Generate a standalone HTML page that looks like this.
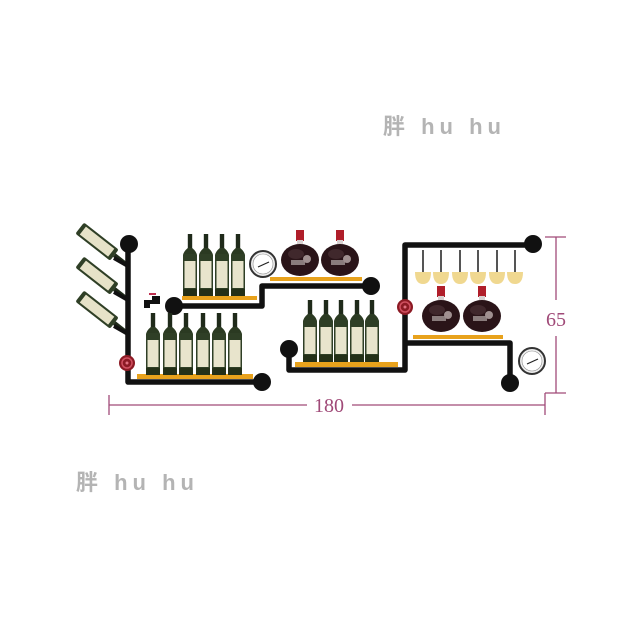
<!DOCTYPE html>
<html><head><meta charset="utf-8"><style>
html,body{margin:0;padding:0;background:#fff;width:640px;height:640px;overflow:hidden}
svg{display:block}
.wm{font-family:"Liberation Sans","Noto Sans CJK SC",sans-serif;font-weight:bold;font-size:22px;fill:#b4b4b4;letter-spacing:5px}
</style></head><body>
<svg width="640" height="640" viewBox="0 0 640 640" xmlns="http://www.w3.org/2000/svg">
<defs>
<g id="b">
  <rect x="-2.2" y="0" width="4.4" height="16" fill="#1f2a1a"/>
  <path d="M-2.2 14 Q-7 18 -7 22 L7 22 Q7 18 2.2 14Z" fill="#2b3a22"/>
  <rect x="-7" y="20" width="14" height="42" rx="1.5" fill="#2f3f26"/>
  <rect x="-5.5" y="27" width="11" height="27" fill="#e8e4cc"/>
  <rect x="-7" y="55" width="14" height="7" fill="#243018"/>
</g>
<g id="r">
  <rect x="-4" y="0" width="8" height="11" fill="#b01e2a"/>
  <rect x="-3" y="10" width="6" height="6" fill="#d8d0d0"/>
  <ellipse cx="0" cy="30" rx="19" ry="16" fill="#2a1418"/>
  <ellipse cx="-4" cy="24" rx="8" ry="5" fill="#4a3035" opacity=".7"/>
  <rect x="-9" y="30" width="14" height="5" fill="#8a7c7c"/>
  <circle cx="7" cy="29" r="4" fill="#a09090"/>
</g>
<g id="g">
  <rect x="-1" y="0" width="2" height="22" fill="#555"/>
  <path d="M-8 22 Q-8 34 0 34 Q8 34 8 22Z" fill="#f0d890"/>
</g>
<g id="s">
  <g transform="rotate(-52)">
    <rect x="-7" y="-8" width="14" height="44" rx="2" fill="#2f3f26"/>
    <rect x="-5" y="-4" width="10" height="36" fill="#e6e2c8"/>
    <rect x="-2.2" y="36" width="4.4" height="16" fill="#1f2a1a"/>
  </g>
</g>
<g id="gauge">
  <circle r="13" fill="#eee" stroke="#333" stroke-width="2"/>
  <circle r="10" fill="#fff" stroke="#888" stroke-width=".6"/>
  <line x1="-5" y1="3" x2="6" y2="-2" stroke="#222" stroke-width="1.2"/>
</g>
<g id="valve">
  <circle r="8" fill="#8c1a24"/>
  <circle r="5" fill="none" stroke="#d05060" stroke-width="1.5"/>
  <circle r="1.5" fill="#e07080"/>
</g>
</defs>

<text class="wm" x="383" y="134">胖 hu hu</text>
<text class="wm" x="76" y="490">胖 hu hu</text>

<!-- slanted bottles -->
<use href="#s" x="86" y="233"/>
<use href="#s" x="86" y="267"/>
<use href="#s" x="86" y="301"/>
<g stroke="#111" stroke-width="4" fill="none">
<line x1="114" y1="258" x2="128" y2="266"/>
<line x1="114" y1="292" x2="128" y2="300"/>
<line x1="114" y1="326" x2="128" y2="334"/>
</g>

<g stroke="#111" stroke-width="5.5" fill="none" stroke-linejoin="round">
 <path d="M128 244 L128 382 L262 382"/>
 <path d="M172 306 L262 306 L262 286 L371 286"/>
 <path d="M289 349 L289 370 L405 370 L405 245 L533 245"/>
 <path d="M405 343 L510 343 L510 383"/>
</g>
<g fill="#111">
 <circle cx="129" cy="244" r="9"/>
 <circle cx="262" cy="382" r="9"/>
 <circle cx="174" cy="306" r="9"/>
 <circle cx="371" cy="286" r="9"/>
 <circle cx="289" cy="349" r="9"/>
 <circle cx="533" cy="244" r="9"/>
 <circle cx="510" cy="383" r="9"/>
 <path d="M144 300 L160 300 L160 304 L150 304 L150 308 L144 308Z"/>
 <rect x="152" y="296" width="8" height="8"/>
</g>
<rect x="149" y="293" width="7" height="2" fill="#c03050"/>
<rect x="520" y="358" width="6" height="5" fill="#111"/>

<g fill="#e8a21c">
 <rect x="137" y="374" width="116" height="5"/>
 <rect x="182" y="296" width="75" height="4"/>
 <rect x="270" y="277" width="92" height="4"/>
 <rect x="295" y="362" width="103" height="5"/>
 <rect x="413" y="335" width="90" height="4"/>
</g>

<use href="#b" x="190" y="234"/><use href="#b" x="206" y="234"/><use href="#b" x="222" y="234"/><use href="#b" x="238" y="234"/>
<use href="#b" x="153" y="313"/><use href="#b" x="170" y="313"/><use href="#b" x="186" y="313"/><use href="#b" x="203" y="313"/><use href="#b" x="219" y="313"/><use href="#b" x="235" y="313"/>
<use href="#b" x="310" y="300"/><use href="#b" x="326" y="300"/><use href="#b" x="341" y="300"/><use href="#b" x="357" y="300"/><use href="#b" x="372" y="300"/>

<use href="#r" x="300" y="230"/><use href="#r" x="340" y="230"/>
<use href="#r" x="441" y="286"/><use href="#r" x="482" y="286"/>

<use href="#g" x="423" y="250"/><use href="#g" x="441" y="250"/><use href="#g" x="460" y="250"/><use href="#g" x="478" y="250"/><use href="#g" x="497" y="250"/><use href="#g" x="515" y="250"/>

<use href="#gauge" x="263" y="264"/>
<use href="#gauge" x="532" y="361"/>
<use href="#valve" x="127" y="363"/>
<use href="#valve" x="405" y="307"/>

<g stroke="#a04a78" stroke-width="1.3" fill="none">
 <line x1="109" y1="405" x2="307" y2="405"/>
 <line x1="352" y1="405" x2="545" y2="405"/>
 <line x1="109" y1="395" x2="109" y2="415"/>
 <line x1="545" y1="393" x2="545" y2="415"/>
 <line x1="556" y1="237" x2="556" y2="300"/>
 <line x1="556" y1="336" x2="556" y2="393"/>
 <line x1="545" y1="237" x2="566" y2="237"/>
 <line x1="545" y1="393" x2="566" y2="393"/>
</g>
<g font-family="Liberation Serif, serif" font-size="20" fill="#a04a78">
 <text x="329" y="412" text-anchor="middle">180</text>
 <text x="556" y="326" text-anchor="middle">65</text>
</g>
</svg>
</body></html>
